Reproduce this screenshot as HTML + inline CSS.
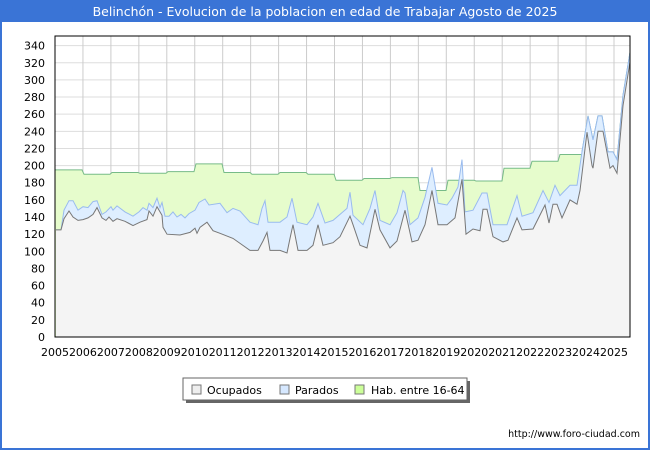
<!DOCTYPE html>
<html><head><meta charset="utf-8"><style>
body{margin:0;background:#fff;}
svg{display:block;font-family:"DejaVu Sans","Liberation Sans",sans-serif;}
</style></head><body>
<svg id="s" width="650" height="450" xmlns="http://www.w3.org/2000/svg">
<rect x="0" y="0" width="650" height="450" fill="#fff"/>
<rect x="0" y="0" width="650" height="22" fill="#3a74d6"/>
<rect x="0" y="0" width="2" height="450" fill="#3a74d6"/>
<rect x="648" y="0" width="2" height="450" fill="#3a74d6"/>
<rect x="0" y="448" width="650" height="2" fill="#3a74d6"/>
<text x="325" y="16" text-anchor="middle" font-size="12.5" fill="#fff">Belinchón - Evolucion de la poblacion en edad de Trabajar Agosto de 2025</text>
<g id="grid"></g>
<g id="areas"></g>
<rect x="55" y="36" width="575" height="301" fill="none" stroke="#000" stroke-width="1"/>
<g id="labels" font-size="11" fill="#000"></g>
<rect x="186" y="381" width="284" height="22" fill="#666"/>
<rect x="183" y="378" width="284" height="22" fill="#fff" stroke="#666"/>
<rect x="192" y="385" width="9" height="9" fill="#eee" stroke="#777"/>
<text x="207" y="394" font-size="11">Ocupados</text>
<rect x="280" y="385" width="9" height="9" fill="#d6e8ff" stroke="#777"/>
<text x="295" y="394" font-size="11">Parados</text>
<rect x="355" y="385" width="9" height="9" fill="#ccff99" stroke="#777"/>
<text x="371" y="394" font-size="11">Hab. entre 16-64</text>
<text x="640" y="437" text-anchor="end" font-size="9.5">http://www.foro-ciudad.com</text>
</svg>
<script>
var NS="http://www.w3.org/2000/svg";
function Y(v){return 337-v*0.857;}
function el(p,t,a,txt){var e=document.createElementNS(NS,t);for(var k in a)e.setAttribute(k,a[k]);if(txt!==undefined)e.textContent=txt;document.getElementById(p).appendChild(e);}
for(var v=20;v<=340;v+=20){el("grid","line",{x1:55,x2:630,y1:Y(v),y2:Y(v),stroke:"#ddd"});}
for(var v=0;v<=340;v+=20){el("labels","text",{x:45,y:Y(v)+4,"text-anchor":"end"},String(v));}
for(var yr=2005;yr<=2025;yr++){var x=55+(yr-2005)*27.95;if(yr>2005)el("grid","line",{x1:x,x2:x,y1:36,y2:337,stroke:"#ccc"});el("labels","text",{x:x,y:356,"text-anchor":"middle"},String(yr));}
var oc=[[56,125],[61,125],[64,138],[69,147],[73,140],[78,136],[83,137],[88,139],[93,143],[97,151],[102,139],[106,136],[109,140],[113,135],[117,138],[125,135],[133,130],[140,134],[147,137],[149,147],[153,141],[157,152],[162,142],[163,128],[167,120],[180,119],[190,122],[195,127],[197,121],[200,128],[207,134],[213,124],[220,121],[233,115],[250,101],[258,101],[263,112],[267,122],[270,101],[280,101],[287,98],[290,115],[293,131],[298,101],[307,101],[313,107],[318,131],[323,107],[333,110],[340,117],[350,141],[353,131],[360,107],[367,104],[375,149],[380,125],[390,104],[397,112],[405,148],[412,111],[418,113],[425,131],[432,171],[438,131],[447,131],[455,139],[462,184],[466,120],[473,126],[480,124],[483,149],[487,149],[493,117],[503,111],[508,113],[517,139],[522,125],[533,126],[545,154],[549,133],[553,155],[557,155],[562,139],[570,160],[577,155],[580,171],[587,239],[592,200],[593,197],[598,240],[603,240],[610,197],[613,200],[617,191],[623,270],[630,321]];
var pa=[[56,125],[61,125],[64,148],[69,159],[73,159],[78,148],[83,152],[88,151],[93,158],[97,159],[102,143],[106,146],[111,152],[113,148],[117,153],[125,146],[133,141],[139,146],[143,151],[147,148],[149,156],[153,151],[157,162],[160,151],[162,157],[165,141],[169,141],[173,146],[177,140],[181,143],[185,139],[189,144],[195,148],[199,157],[205,161],[209,154],[220,156],[227,145],[233,150],[240,147],[250,134],[258,131],[262,150],[265,159],[268,134],[280,134],[287,140],[292,162],[297,134],[307,131],[313,140],[318,156],[325,133],[333,136],[347,150],[350,169],[353,142],[363,131],[370,150],[375,171],[380,136],[390,131],[397,145],[403,171],[405,168],[410,131],[412,133],[418,139],[425,163],[432,198],[438,156],[447,154],[452,162],[458,175],[462,207],[465,146],[473,148],[482,168],[487,168],[493,131],[507,131],[517,165],[522,141],[533,145],[543,171],[549,157],[555,177],[560,165],[570,177],[577,177],[582,216],[588,258],[593,230],[598,258],[602,258],[608,216],[613,216],[617,207],[623,282],[630,332]];
var hab=[[55,195],[82,195],[84,190],[110,190],[112,192],[138,192],[140,191],[166,191],[168,193],[194,193],[196,202],[222,202],[224,192],[250,192],[252,190],[278,190],[280,192],[306,192],[308,190],[334,190],[336,183],[362,183],[364,185],[390,185],[392,186],[418,186],[420,171],[446,171],[448,183],[474,183],[476,182],[502,182],[504,197],[530,197],[532,205],[558,205],[560,213],[582,213],[582,216],[588,258],[593,230],[598,258],[602,258],[608,216],[613,216],[617,207],[623,282],[630,332]];
function area(d,fill,stroke){var s="M"+d[0][0]+","+Y(d[0][1]);for(var i=1;i<d.length;i++)s+="L"+d[i][0]+","+Y(d[i][1]).toFixed(1);
el("areas","path",{d:s+"L"+d[d.length-1][0]+",337L"+d[0][0]+",337Z",fill:fill});el("areas","path",{d:s,fill:"none",stroke:stroke,"stroke-width":1});}
area(hab,"#e6fccc","#77bb88");
area(pa,"#deeeff","#99bbee");
area(oc,"#f4f4f4","#777");
</script>
</body></html>
